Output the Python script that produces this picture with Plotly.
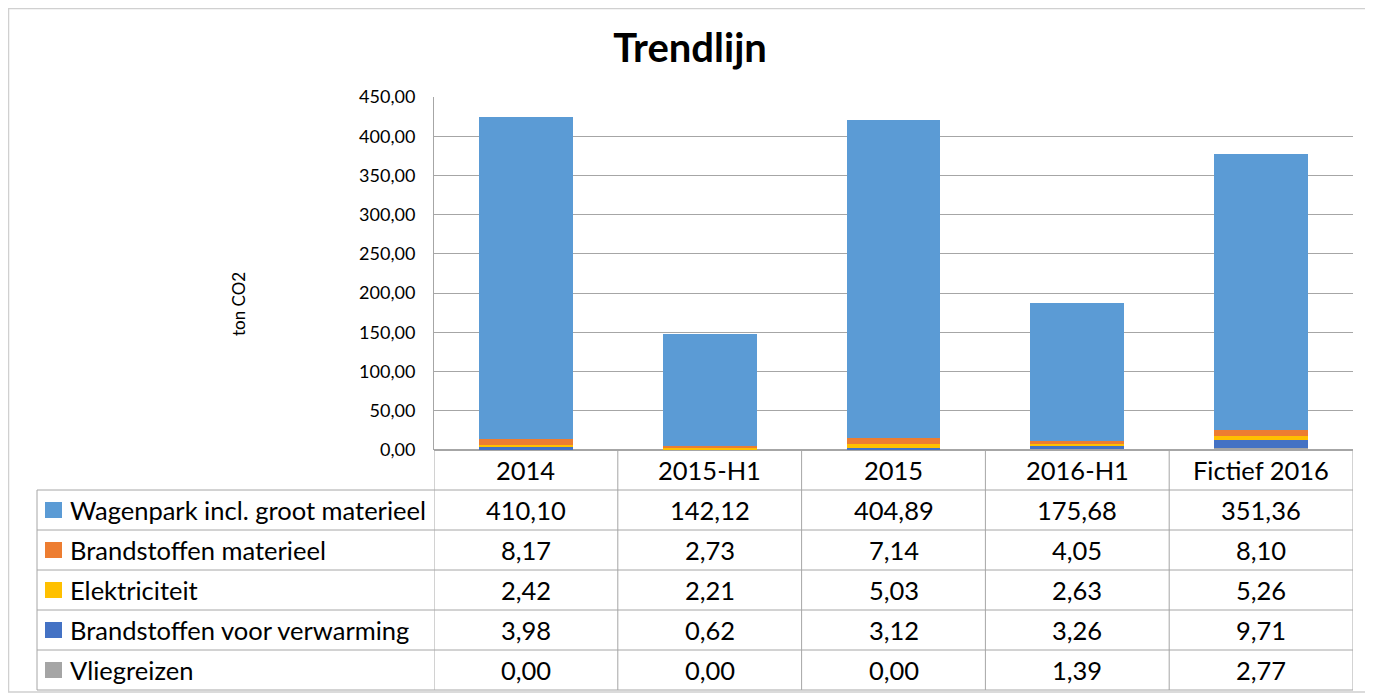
import plotly.graph_objects as go

categories = ["2014", "2015-H1", "2015", "2016-H1", "Fictief 2016"]
series_names = ["Wagenpark incl. groot materieel", "Brandstoffen materieel",
                "Elektriciteit", "Brandstoffen voor verwarming", "Vliegreizen"]
wagenpark = [410.10, 142.12, 404.89, 175.68, 351.36]
brandstoffen_materieel = [8.17, 2.73, 7.14, 4.05, 8.10]
elektriciteit = [2.42, 2.21, 5.03, 2.63, 5.26]
brandstoffen_verwarming = [3.98, 0.62, 3.12, 3.26, 9.71]
vliegreizen = [0.00, 0.00, 0.00, 1.39, 2.77]
y_ticks = [0, 50, 100, 150, 200, 250, 300, 350, 400, 450]

series_values = [wagenpark, brandstoffen_materieel, elektriciteit,
                 brandstoffen_verwarming, vliegreizen]
colors = ["#5B9BD5", "#ED7D31", "#FFC000", "#4472C4", "#A5A5A5"]

OFF = 8  # page body margin
W, H = 1373 - OFF, 693 - OFF
L, R, T, B = 434 - OFF, 1373 - 1353, 97 - OFF, 693 - 450
PW, PH = W - L - R, H - T - B
FONT = "Lato, Carlito, Calibri, 'Open Sans', sans-serif"
GRID = "#A6A6A6"


def px_x(x):
    return (x - OFF - L) / PW


def px_y(y):
    return (H - B - (y - OFF)) / PH


fig = go.Figure()
# stack from bottom: Vliegreizen, verwarming, Elektriciteit, materieel, Wagenpark
for i in reversed(range(len(series_names))):
    fig.add_trace(go.Bar(x=categories, y=series_values[i], name=series_names[i],
                         marker=dict(color=colors[i], line=dict(width=0))))

shapes = []
line = dict(color=GRID, width=1)
# outer chart border
shapes.append(dict(type="rect", xref="paper", yref="paper", x0=px_x(8.5), x1=px_x(1367),
                   y0=px_y(692), y1=px_y(8.5), line=dict(color="#D0D0D0", width=1.5)))
# table horizontal lines
row_edges = [490, 530, 570, 610, 650, 690]
for ry in row_edges:
    shapes.append(dict(type="line", xref="paper", yref="paper", x0=px_x(37), x1=1,
                       y0=px_y(ry), y1=px_y(ry), line=line))
# left table edge
shapes.append(dict(type="line", xref="paper", yref="paper", x0=px_x(37), x1=px_x(37),
                   y0=px_y(490), y1=px_y(690), line=line))
# category boundaries in table
for k in range(len(categories) + 1):
    shapes.append(dict(type="line", xref="x", yref="paper", x0=k - 0.5, x1=k - 0.5,
                       y0=0, y1=px_y(690), line=line))
# legend keys
row_centers = [(row_edges[j] + row_edges[j + 1]) / 2 for j in range(len(series_names))]
for j, c in enumerate(colors):
    yc = row_centers[j]
    shapes.append(dict(type="rect", xref="paper", yref="paper", x0=px_x(45), x1=px_x(62),
                       y0=px_y(yc + 8), y1=px_y(yc - 8), fillcolor=c, line=dict(width=0)))

TFONT = dict(size=25.5, color="#000000", family=FONT)
annotations = []
# category header labels
for k, cat in enumerate(categories):
    annotations.append(dict(x=k, xref="x", y=px_y(470), yref="paper", text=cat,
                            xanchor="center", yanchor="middle",
                            showarrow=False, font=TFONT))
# series labels and values
for j, name in enumerate(series_names):
    yc = px_y(row_centers[j])
    annotations.append(dict(x=px_x(68), xref="paper", y=yc, yref="paper", text=name,
                            xanchor="left", yanchor="middle", showarrow=False, font=TFONT))
    for k, cat in enumerate(categories):
        txt = f"{series_values[j][k]:.2f}".replace(".", ",")
        annotations.append(dict(x=k, xref="x", y=yc, yref="paper", text=txt,
                                xanchor="center", yanchor="middle",
                                showarrow=False, font=TFONT))
# y axis title
annotations.append(dict(x=px_x(238), xref="paper", y=px_y(304), yref="paper", text="ton CO2",
                        xanchor="center", yanchor="middle",
                        textangle=-90, showarrow=False,
                        font=dict(size=17, color="#000000", family=FONT)))

fig.update_layout(
    width=W, height=H,
    margin=dict(l=L, r=R, t=T, b=B, autoexpand=False),
    paper_bgcolor="white", plot_bgcolor="white",
    barmode="stack", bargap=0.49,
    showlegend=False,
    separators=",.",
    font=dict(family=FONT, color="#000000"),
    title=dict(text="<b>Trendlijn</b>", x=(690 - OFF) / W, xanchor="center",
               y=1 - (48 - OFF) / H, yanchor="middle",
               font=dict(size=40, family=FONT, color="#000000")),
    xaxis=dict(type="category", showticklabels=False, showgrid=False, zeroline=False,
               showline=False, ticks="", range=[-0.5, len(categories) - 0.5]),
    yaxis=dict(range=[0, 450], tickvals=y_ticks, tickformat=".2f", showgrid=True,
               gridcolor=GRID, gridwidth=1, zeroline=True, zerolinecolor=GRID,
               showline=True, linecolor=GRID, linewidth=1, ticks="", ticklen=0,
               ticklabelstandoff=14,
               tickfont=dict(size=18, family=FONT, color="#000000")),
    shapes=shapes,
    annotations=annotations,
)

fig.write_html("out.html")
